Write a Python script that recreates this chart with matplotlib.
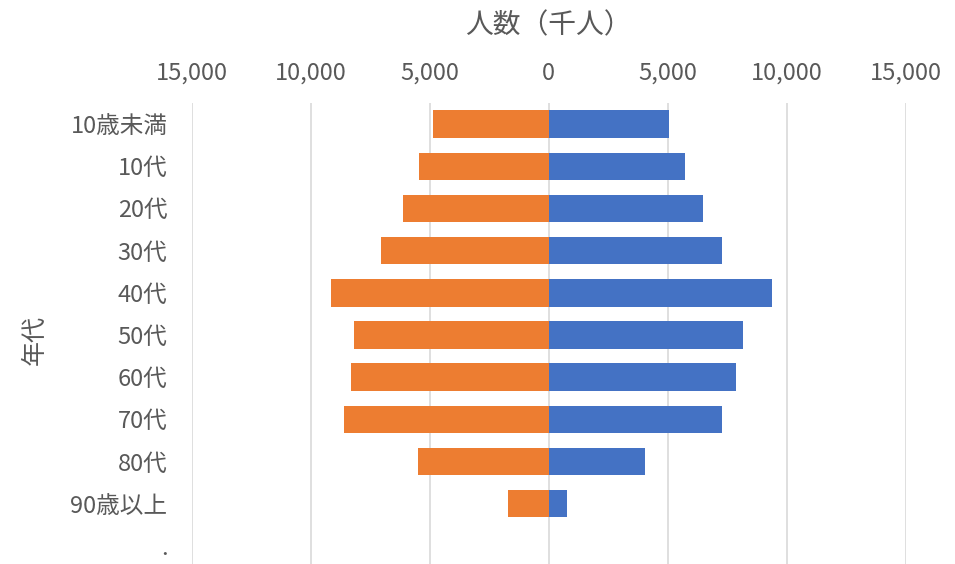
import matplotlib.pyplot as plt
from matplotlib.ticker import FuncFormatter, MultipleLocator

plt.rcParams['font.family'] = ['Noto Sans CJK JP', 'DejaVu Sans']

ages = ['10歳未満', '10代', '20代', '30代', '40代', '50代', '60代', '70代', '80代', '90歳以上', '.']
left_vals = [4850, 5440, 6110, 7060, 9130, 8170, 8320, 8610, 5500, 1720, 0]   # orange
right_vals = [5070, 5740, 6480, 7300, 9370, 8180, 7880, 7300, 4030, 780, 0]   # blue

W, H = 955, 564
fig = plt.figure(figsize=(W / 100, H / 100), dpi=100)
ax = fig.add_axes([191.7 / W, 0, 714 / W, (564 - 103) / H])

y = list(range(len(ages)))
ax.barh(y, [-v for v in left_vals], height=0.65, color='#ED7D31', zorder=3)
ax.barh(y, right_vals, height=0.65, color='#4472C4', zorder=3)

ax.set_xlim(-15000, 15000)
ax.set_ylim(10.43, -0.5)
ax.xaxis.set_major_locator(MultipleLocator(5000))
ax.xaxis.set_major_formatter(FuncFormatter(lambda v, p: f'{abs(int(v)):,}'))
ax.xaxis.tick_top()
ax.set_yticks(y)
ax.set_yticklabels(ages)
ax.tick_params(length=0, labelsize=17, colors='#595959')
ax.tick_params(axis='x', pad=13)
ax.tick_params(axis='y', pad=17.5)
ax.grid(axis='x', color='#d9d9d9', linewidth=1.2, zorder=0)
for s in ax.spines.values():
    s.set_visible(False)

fig.text(548.7 / W, 1 - 25 / H, '人数（千人）', ha='center', va='center', fontsize=20, color='#595959')
fig.text(35 / W, 1 - 340 / H, '年代', ha='center', va='center', fontsize=18, color='#595959', rotation=90)

fig.savefig('out.png', dpi=100)
